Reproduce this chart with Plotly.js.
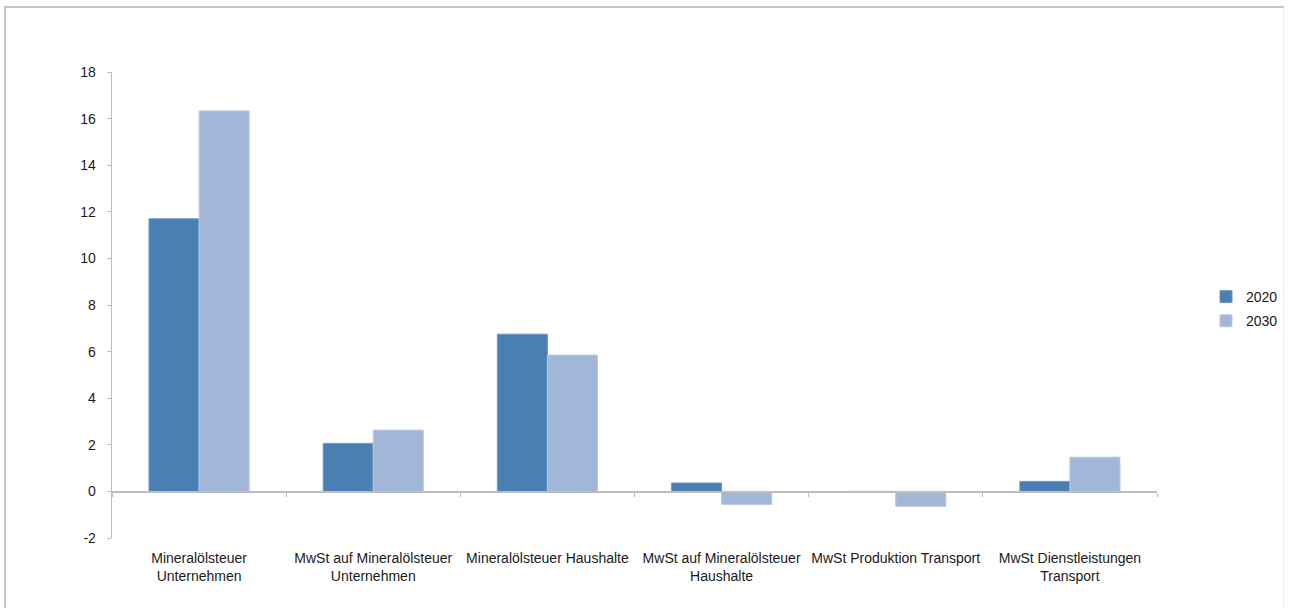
<!DOCTYPE html>
<html>
<head>
<meta charset="utf-8">
<script src="https://cdn.plot.ly/plotly-3.0.1.min.js"></script>
<style>
html,body{margin:0;padding:0;background:#fff;overflow:hidden;}
#frame{position:absolute;left:4px;top:6px;width:1280px;height:620px;border-left:2px solid #c4c4c4;border-top:2px solid #c4c4c4;border-right:1px solid #ececec;box-sizing:border-box;pointer-events:none;z-index:5;}
#chart{position:absolute;left:0;top:0;width:1290px;height:608px;}
</style>
</head>
<body>
<div id="chart"></div>
<div id="frame"></div>
<script>
const categories = [
  "Mineralölsteuer<br>Unternehmen",
  "MwSt auf Mineralölsteuer<br>Unternehmen",
  "Mineralölsteuer Haushalte",
  "MwSt auf Mineralölsteuer<br>Haushalte",
  "MwSt Produktion Transport",
  "MwSt Dienstleistungen<br>Transport"
];
const seriesNames = ["2020", "2030"];
const values2020 = [11.7, 2.06, 6.75, 0.36, -0.02, 0.43];
const values2030 = [16.33, 2.63, 5.85, -0.56, -0.64, 1.47];
const yTicks = [-2, 0, 2, 4, 6, 8, 10, 12, 14, 16, 18];

const font = {family: "Liberation Sans, Arial, sans-serif", size: 14, color: "#1a1a1a"};

const traces = [
  {type: "bar", name: seriesNames[0], x: categories, y: values2020, legendgroup: "a",
   marker: {color: "#4a7fb4", line: {color: "#6f98c4", width: 1}}, xaxis: "x", yaxis: "y"},
  {type: "bar", name: seriesNames[1], x: categories, y: values2030, legendgroup: "b",
   marker: {color: "#a2b6d8", line: {color: "#b9c9e3", width: 1}}, xaxis: "x", yaxis: "y"}
];

const layout = {
  width: 1290, height: 608,
  margin: {l: 112, r: 133, t: 72, b: 70},
  paper_bgcolor: "#fff", plot_bgcolor: "#fff",
  font: font,
  barmode: "group",
  bargap: 0.425, bargroupgap: 0,
  showlegend: true,
  legend: {xref: "container", yref: "container", x: 1206/1290, y: 1 - 309/608, xanchor: "left", yanchor: "middle",
           font: {size: 14, color: "#1a1a1a"}, itemwidth: 30, tracegroupgap: 3, bgcolor: "rgba(0,0,0,0)"},
  xaxis: {
    type: "category", anchor: "y", showline: false, ticks: "", showgrid: false, zeroline: false,
    tickfont: font, ticklabelstandoff: 10, fixedrange: true
  },
  xaxis2: {
    type: "category", overlaying: "x", matches: "x", anchor: "free", position: 0.1, side: "bottom",
    showline: true, linecolor: "#bdbdbd", linewidth: 1.3, ticks: "outside", tickson: "boundaries",
    ticklen: 4, tickcolor: "#bdbdbd", showticklabels: false, showgrid: false, zeroline: false
  },
  yaxis: {
    range: [-2, 18], tickvals: yTicks, ticktext: yTicks.map(String),
    showline: true, linecolor: "#bdbdbd", linewidth: 1.3, ticks: "outside", ticklen: 4, tickcolor: "#bdbdbd",
    showgrid: false, zeroline: false, tickfont: font, ticklabelstandoff: 8
  }
};

traces.push({type: "scatter", x: [categories[0]], y: [0], xaxis: "x2", yaxis: "y",
             mode: "markers", marker: {opacity: 0}, showlegend: false, hoverinfo: "skip"});

Plotly.newPlot("chart", traces, layout, {staticPlot: true});
</script>
</body>
</html>
